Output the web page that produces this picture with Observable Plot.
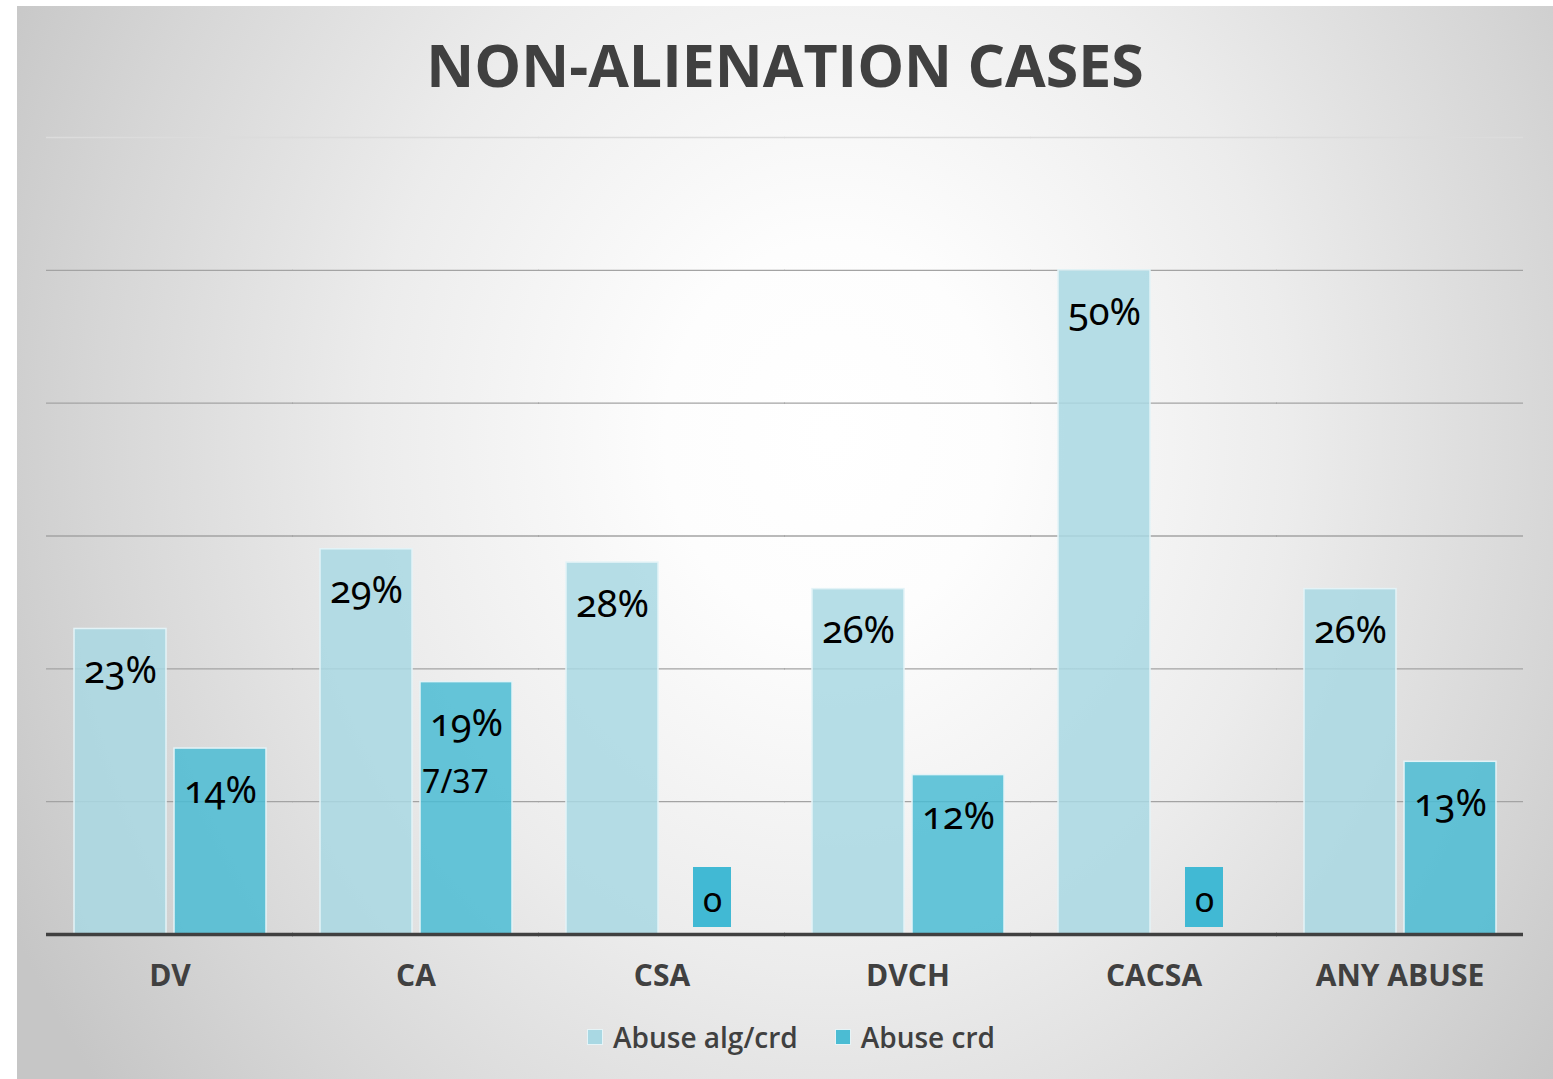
<!DOCTYPE html>
<html>
<head>
<meta charset="utf-8">
<script src="https://cdn.jsdelivr.net/npm/d3@7"></script>
<script src="https://cdn.jsdelivr.net/npm/@observablehq/plot@0.6"></script>
<style>
  html, body { margin: 0; padding: 0; background: #ffffff; }
  #panel {
    position: absolute; left: 17px; top: 6px; width: 1536px; height: 1073px;
    background: radial-gradient(ellipse 60% 100% at 53% 40%, #ffffff 0%, #fdfdfd 18%, #ececec 50%, #d6d6d6 80%, #c6c6c6 100%);
    overflow: hidden;
  }
  #title {
    position: absolute; left: 0; top: 18px; width: 100%; text-align: center;
    font-family: "Open Sans", sans-serif; font-weight: 700; font-size: 59px;
    color: #404040; line-height: normal; letter-spacing: 0px;
  }
  #chart { position: absolute; left: 0; top: 114px; }
  #legend {
    position: absolute; left: 6px; top: 1012px; width: 100%;
    display: flex; justify-content: center; align-items: center; gap: 37px;
    font-family: "Open Sans", sans-serif; font-weight: 600; font-size: 28px; color: #404040;
    line-height: normal;
  }
  .item { display: flex; align-items: center; gap: 10px; }
  .sw { width: 16px; height: 16px; display: inline-block; box-sizing: border-box; border: 1px solid #e6f4f7; }
</style>
</head>
<body>
<div id="panel">
  <div id="title">NON-ALIENATION CASES</div>
  <div id="chart"></div>
  <div id="legend"></div>
</div>
<script>
// ---- data ----
const categories = ["DV", "CA", "CSA", "DVCH", "CACSA", "ANY ABUSE"];
const seriesNames = ["Abuse alg/crd", "Abuse crd"];
const allegedValues = [23, 29, 28, 26, 50, 26];   // Abuse alg/crd (%)
const credibleValues = [14, 19, 0, 12, 0, 13];    // Abuse crd (%)
const gridTicks = [10, 20, 30, 40, 50, 60];
const yMax = 60;
const noteCategories = ["CA"];
const noteSeries = ["Abuse crd"];
const noteTexts = ["7/37"];

const seriesColors = ["#a9d8e3", "#4bbcd3"];
const zeroBoxColor = "#41b9d4";

// ---- table ----
const rows = [];
categories.forEach((c, i) => {
  rows.push({category: c, series: seriesNames[0], value: allegedValues[i]});
  rows.push({category: c, series: seriesNames[1], value: credibleValues[i]});
});
rows.forEach(r => r.label = r.value === 0 ? "0" : r.value + "%");
const nonZero = rows.filter(r => r.value !== 0);
const zeros = rows.filter(r => r.value === 0);
const notes = noteCategories.map((c, i) => {
  const r = rows.find(d => d.category === c && d.series === noteSeries[i]);
  return {category: c, series: noteSeries[i], value: r.value, text: noteTexts[i]};
});

const chart = Plot.plot({
  width: 1536,
  height: 880,
  marginLeft: 30,
  marginRight: 30,
  marginTop: 17,
  marginBottom: 66,
  style: {
    background: "transparent",
    fontFamily: "'Open Sans', sans-serif",
    fontSize: "30px",
    fontWeight: 700,
    color: "#404040",
    overflow: "visible"
  },
  fx: {domain: categories, paddingInner: 0.215, paddingOuter: 0.1075, label: null, axis: "bottom", tickSize: 0, tickPadding: 30},
  x: {domain: seriesNames, paddingInner: 0.08, paddingOuter: 0, axis: null},
  y: {domain: [0, yMax], axis: null},
  color: {domain: seriesNames, range: seriesColors},
  marks: [
    Plot.ruleY(gridTicks.filter(t => t < yMax), {stroke: "#a3a3a3", strokeWidth: 1.3, insetLeft: -27, insetRight: -27}),
    Plot.ruleY(gridTicks.filter(t => t >= yMax), {stroke: "#dcdcdc", strokeWidth: 1.3, insetLeft: -27, insetRight: -27}),
    Plot.barY(rows, {fx: "category", x: "series", y: "value", fill: "series", fillOpacity: 0.85, stroke: "#e3f3f7", strokeWidth: 1.5}),
    Plot.barY(zeros, {fx: "category", x: "series", y1: "value", y2: "value", fill: zeroBoxColor, insetTop: -67, insetBottom: 7, insetLeft: 27, insetRight: 27}),
    Plot.ruleY([0], {stroke: "#404040", strokeWidth: 3.5, insetLeft: -27, insetRight: -27}),
    Plot.text(nonZero, {fx: "category", x: "series", y: "value", text: "label", dy: 42, fill: "#000", fontSize: 38, fontWeight: 400, fontFamily: "'Noto Sans', sans-serif", fontVariant: "oldstyle-nums"}),
    Plot.text(zeros, {fx: "category", x: "series", y: "value", text: "label", dy: -34, fill: "#000", fontSize: 35, fontWeight: 400, fontFamily: "'Noto Sans', sans-serif", fontVariant: "oldstyle-nums"}),
    Plot.text(notes, {fx: "category", x: "series", y: "value", text: "text", dy: 101, dx: -11, fill: "#000", fontSize: 32, fontWeight: 400, fontFamily: "'Noto Sans', sans-serif"})
  ]
});
document.getElementById("chart").appendChild(chart);

// legend
const legend = document.getElementById("legend");
seriesNames.forEach((s, i) => {
  const item = document.createElement("div");
  item.className = "item";
  const sw = document.createElement("span");
  sw.className = "sw";
  sw.style.background = seriesColors[i];
  const t = document.createElement("span");
  t.textContent = s;
  item.appendChild(sw);
  item.appendChild(t);
  legend.appendChild(item);
});
</script>
</body>
</html>
